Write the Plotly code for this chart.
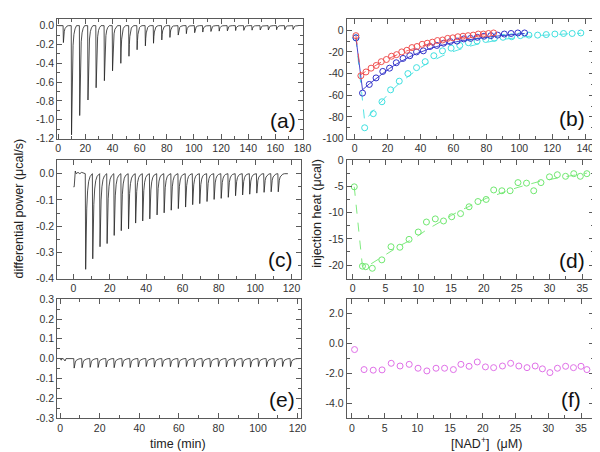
import plotly.graph_objects as go
from plotly.subplots import make_subplots

# ---------------- data ----------------
# (a) thermogram: injection times (min) and peak depths (ucal/s)
A_T = [3.6, 9.6, 15.6, 21.7, 27.7, 33.8, 39.8, 45.9, 51.9, 57.9, 64.0, 70.0, 76.1, 82.1,
       88.2, 94.2, 100.3, 106.3, 112.3, 118.4, 124.4, 130.5, 136.5, 142.6, 148.6, 154.6,
       160.7, 166.7, 172.8]
A_DEPTH = [-0.18, -1.16, -0.955, -0.79, -0.66, -0.585, -0.48, -0.40, -0.325, -0.256, -0.215,
           -0.187, -0.152, -0.125, -0.10, -0.085, -0.075, -0.068, -0.062, -0.058, -0.055,
           -0.052, -0.05, -0.048, -0.046, -0.045, -0.043, -0.042, -0.04]
A_START, A_END = 0.0, 177.0

# (c) thermogram
C_PRE_T = [0.0, 0.4, 1.0, 1.5, 2.5, 3.5, 4.5, 6.2]
C_PRE_Y = [-0.05, -0.05, 0.01, 0.0, 0.005, 0.0, 0.005, 0.0]
C_T = [6.5, 10.4, 14.4, 18.3, 22.2, 26.1, 30.1, 34.0, 37.9, 41.8, 45.8, 49.7, 53.6, 57.5,
       61.5, 65.4, 69.3, 73.3, 77.2, 81.1, 85.0, 89.0, 92.9, 96.8, 100.7, 104.7, 108.6, 112.5]
C_DEPTH = [-0.364, -0.324, -0.278, -0.266, -0.235, -0.217, -0.21, -0.188, -0.18, -0.172,
           -0.157, -0.149, -0.139, -0.133, -0.127, -0.118, -0.114, -0.106, -0.098, -0.094,
           -0.09, -0.084, -0.081, -0.078, -0.074, -0.071, -0.069, -0.069]
C_END = 118.0

# (e) blank thermogram
E_PRE_T = [0.0, 0.6, 1.0, 1.6, 2.5, 3.0, 4.0, 6.6]
E_PRE_Y = [0.0, -0.008, 0.0, 0.0, -0.012, 0.0, 0.0, 0.0]
E_T = [6.9, 10.9, 15.0, 19.0, 23.1, 27.1, 31.2, 35.2, 39.3, 43.3, 47.4, 51.4, 55.5, 59.5,
       63.6, 67.6, 71.7, 75.7, 79.8, 83.8, 87.9, 91.9, 96.0, 100.0, 104.1, 108.1, 112.2, 116.2]
E_DEPTH = [-0.048, -0.046, -0.044, -0.045, -0.042, -0.046, -0.04, -0.045, -0.042, -0.04,
           -0.043, -0.04, -0.041, -0.044, -0.04, -0.042, -0.041, -0.043, -0.04, -0.042,
           -0.04, -0.041, -0.043, -0.04, -0.041, -0.042, -0.04, -0.041]
E_END = 121.0

# (b) injection heats, three series (markers) plus fitted curves
RED_X = [0.8, 3.8, 6.9, 10.0, 13.1, 16.2, 19.3, 22.4, 25.5, 28.6, 31.7, 34.8, 37.9, 41.0,
         44.1, 47.2, 50.3, 53.4, 56.5, 59.6, 62.7, 65.8, 68.9, 72.0, 75.1, 78.2, 81.3, 84.4]
RED_Y = [-5, -42, -38.5, -35, -32.5, -29, -27, -24, -22.5, -20, -18.5, -16, -15, -13,
         -12, -11, -9.5, -9, -7.5, -7, -6, -5.5, -5, -4.5, -3.5, -3.5, -3, -2.5]
RED_FIT = [-5, -41, -37.8, -34.8, -32, -29.4, -27, -24.8, -22.7, -20.8, -19, -17.3, -15.8,
           -14.4, -13.1, -11.9, -10.8, -9.8, -8.9, -8, -7.2, -6.5, -5.8, -5.2, -4.7, -4.2,
           -3.7, -3.3]

BLUE_X = [0.8, 4.8, 8.9, 13.0, 17.1, 21.2, 25.3, 29.4, 33.5, 37.6, 41.7, 45.8, 49.9, 54.0,
          58.1, 62.2, 66.3, 70.4, 74.5, 78.6, 82.7, 86.8, 90.9, 95.0, 99.1, 103.2]
BLUE_Y = [-7, -58, -50, -44, -38, -35, -30, -26, -23.5, -20, -19, -15, -14, -12, -10.5,
          -10, -8, -7.5, -6.5, -5.5, -5, -4.5, -3.5, -3, -2.5, -2.5]
BLUE_FIT = [-7, -55, -49.5, -44.5, -39.5, -35.2, -31.2, -27.6, -24.4, -21.6, -19.1, -16.9,
            -15, -13.3, -11.8, -10.5, -9.4, -8.4, -7.5, -6.7, -6, -5.3, -4.7, -4.2, -3.6,
            -3.0]

CYAN_X = [0.8, 6.1, 11.35, 16.6, 21.85, 27.1, 32.35, 37.6, 42.85, 48.1, 53.35, 58.6, 63.85,
          69.1, 74.35, 79.6, 84.85, 90.1, 95.35, 100.6, 105.85, 111.1, 116.35, 121.6,
          126.85, 132.1, 137.35]
CYAN_Y = [-7, -90, -77, -66, -55, -47, -40, -34.5, -29, -23.5, -19, -16.5, -14, -11.5, -10,
          -8.5, -7.5, -6.5, -6, -5, -4.5, -4.5, -4, -3.5, -3, -3, -2.5]
CYAN_FIT = [-7, -84, -74, -65, -56.5, -49, -42.5, -36.8, -31.8, -27.4, -23.6, -20.3, -17.5,
            -15.1, -13, -11.2, -9.7, -8.4, -7.3, -6.4, -5.6, -4.9, -4.3, -3.8, -3.4, -3.1,
            -2.8]

# (d) injection heat vs [NAD+]
D_X = [0.25, 1.5, 2.0, 3.0, 4.45, 5.85, 7.2, 8.6, 10.0, 11.25, 12.6, 13.85, 15.1, 16.45,
       17.75, 19.1, 20.35, 21.5, 22.75, 24.0, 25.2, 26.5, 27.6, 28.7, 30.0, 31.2, 32.45,
       33.7, 34.7, 35.7]
D_Y = [-5.1, -20.2, -20.3, -20.6, -19.0, -16.5, -16.6, -15.1, -13.7, -11.8, -11.2, -11.6,
       -10.8, -10.2, -8.9, -7.9, -7.5, -5.7, -5.85, -5.85, -4.3, -4.4, -5.85, -4.3, -3.2,
       -2.8, -3.1, -2.6, -3.1, -2.6]
D_FIT = [-5.1, -20.3, -20.4, -19.6, -18.5, -17.4, -16.3, -15.4, -14.4, -13.3, -12.3, -11.3,
         -10.5, -9.6, -8.8, -8.0, -7.3, -6.8, -6.2, -5.7, -5.2, -4.7, -4.3, -4.0, -3.7,
         -3.4, -3.1, -2.9, -2.7, -2.5]

# (f) blank injection heats
F_X = [0.4, 1.85, 3.25, 4.6, 6.0, 7.35, 8.75, 10.1, 11.45, 12.85, 14.15, 15.5, 16.65,
       17.9, 19.15, 20.4, 21.65, 23.0, 24.25, 25.5, 26.75, 28.0, 29.1, 30.25, 31.4, 32.65,
       33.85, 35.0, 35.9]
F_Y = [-0.42, -1.76, -1.8, -1.78, -1.34, -1.52, -1.41, -1.67, -1.85, -1.67, -1.67, -1.76,
       -1.41, -1.54, -1.25, -1.58, -1.63, -1.52, -1.34, -1.52, -1.63, -1.52, -1.71, -1.96,
       -1.67, -1.54, -1.63, -1.54, -1.76]

# tick labels
A_XT = [0, 20, 40, 60, 80, 100, 120, 140, 160, 180]
A_YT = [0.0, -0.2, -0.4, -0.6, -0.8, -1.0, -1.2]
B_XT = [0, 20, 40, 60, 80, 100, 120, 140]
B_YT = [0, -20, -40, -60, -80, -100]
C_XT = [0, 20, 40, 60, 80, 100, 120]
C_YT = [0.0, -0.1, -0.2, -0.3, -0.4]
D_XT = [0, 5, 10, 15, 20, 25, 30, 35]
D_YT = [0, -5, -10, -15, -20]
E_XT = [0, 20, 40, 60, 80, 100, 120]
E_YT = [0.3, 0.2, 0.1, 0.0, -0.1, -0.2, -0.3]
F_XT = [0, 5, 10, 15, 20, 25, 30, 35]
F_YT = [2.0, 0.0, -2.0, -4.0]

# ---------------- rendering helpers ----------------
# shape of one injection peak (time offset in min, fraction of depth)
PROFILE_OFF = [0.0, 0.25, 0.55, 0.95, 1.5, 2.2, 3.1, 4.3]
PROFILE_FRAC = [0.0, 1.0, 0.62, 0.36, 0.18, 0.08, 0.03, 0.0]


def thermogram(times, depths, scale, t_end, pre_t=None, pre_y=None, t_start=0.0):
    xs, ys = [], []
    if pre_t:
        xs += list(pre_t)
        ys += list(pre_y)
    else:
        xs.append(t_start)
        ys.append(0.0)
    for t, d in zip(times, depths):
        for off, fr in zip(PROFILE_OFF, PROFILE_FRAC):
            xs.append(t + off * scale)
            ys.append(d * fr)
    xs.append(t_end)
    ys.append(0.0)
    return xs, ys


def labels(vals, fmt):
    return [format(v, fmt).replace("\u2212", "-") for v in vals]


fig = make_subplots(rows=3, cols=2)

LINE_K = dict(color="#222", width=0.8)
ax, ay = thermogram(A_T, A_DEPTH, 0.9, A_END, t_start=A_START)
fig.add_trace(go.Scatter(x=ax, y=ay, mode="lines", line=LINE_K), 1, 1)

cx, cy = thermogram(C_T, C_DEPTH, 0.85, C_END, C_PRE_T, C_PRE_Y)
fig.add_trace(go.Scatter(x=cx, y=cy, mode="lines", line=LINE_K), 2, 1)

ex, ey = thermogram(E_T, E_DEPTH, 0.85, E_END, E_PRE_T, E_PRE_Y)
fig.add_trace(go.Scatter(x=ex, y=ey, mode="lines", line=LINE_K), 3, 1)

MS = 6
# (b)
for xs, ys, fit, col, dash in [
    (CYAN_X, CYAN_Y, CYAN_FIT, "#3fe0e0", "dash"),
    (BLUE_X, BLUE_Y, BLUE_FIT, "#3030c8", "solid"),
    (RED_X, RED_Y, RED_FIT, "#f05050", "dash"),
]:
    fig.add_trace(go.Scatter(x=xs, y=fit, mode="lines",
                             line=dict(color=col, width=0.9, dash=dash)), 1, 2)
    fig.add_trace(go.Scatter(x=xs, y=ys, mode="markers",
                             marker=dict(symbol="circle-open", size=MS, color=col,
                                         line=dict(width=1, color=col))), 1, 2)

# (d)
fig.add_trace(go.Scatter(x=D_X, y=D_FIT, mode="lines",
                         line=dict(color="#70e870", width=0.9, dash="dash")), 2, 2)
fig.add_trace(go.Scatter(x=D_X, y=D_Y, mode="markers",
                         marker=dict(symbol="circle-open", size=MS, color="#70e870",
                                     line=dict(width=1, color="#70e870"))), 2, 2)

# (f)
fig.add_trace(go.Scatter(x=F_X, y=F_Y, mode="markers",
                         marker=dict(symbol="circle-open", size=MS, color="#e070e8",
                                     line=dict(width=1, color="#e070e8"))), 3, 2)

# ---------------- axes ----------------
AXC = "#5a5a5a"
common = dict(showline=True, linecolor=AXC, linewidth=1, mirror="allticks",
              ticks="inside", ticklen=5, tickwidth=1, tickcolor=AXC,
              showgrid=False, zeroline=False,
              tickfont=dict(family="Liberation Sans, Arial", size=10.5, color="#333"))


def minor(d):
    return dict(ticks="inside", ticklen=3, tickcolor=AXC, dtick=d, showgrid=False)


LX = [48 / 600, 298 / 600]
LX2 = [48 / 600, 296 / 600]
RX = [343 / 600, 595 / 600]
R1 = [1 - 128 / 452, 1 - 5 / 452]
R2 = [1 - 272 / 452, 1 - 150 / 452]
R3 = [1 - 415 / 452, 1 - 293 / 452]

fig.update_layout(
    xaxis=dict(common, domain=LX, range=[-0.8, 180], tickvals=A_XT, ticktext=labels(A_XT, "d"), minor=minor(10)),
    yaxis=dict(common, domain=R1, range=[-1.2, 0.072], tickvals=A_YT, ticktext=labels(A_YT, ".1f"), minor=minor(0.1)),
    xaxis2=dict(common, domain=RX, range=[-4.8, 145.4], tickvals=B_XT, ticktext=labels(B_XT, "d"), minor=minor(10)),
    yaxis2=dict(common, domain=R1, range=[-100, 10.5], tickvals=B_YT, ticktext=labels(B_YT, "d"), minor=minor(10)),
    xaxis3=dict(common, domain=LX2, range=[-9, 125], tickvals=C_XT, ticktext=labels(C_XT, "d"), minor=minor(10)),
    yaxis3=dict(common, domain=R2, range=[-0.4, 0.052], tickvals=C_YT, ticktext=labels(C_YT, ".1f"), minor=minor(0.05)),
    xaxis4=dict(common, domain=RX, range=[-0.9, 36.8], tickvals=D_XT, ticktext=labels(D_XT, "d"), minor=minor(2.5)),
    yaxis4=dict(common, domain=R2, range=[-22.6, 0], tickvals=D_YT, ticktext=labels(D_YT, "d"), minor=minor(2.5)),
    xaxis5=dict(common, domain=LX2, range=[-1.5, 121.5], tickvals=E_XT, ticktext=labels(E_XT, "d"), minor=minor(10)),
    yaxis5=dict(common, domain=R3, range=[-0.3, 0.3], tickvals=E_YT, ticktext=labels(E_YT, ".1f"), minor=minor(0.05)),
    xaxis6=dict(common, domain=RX, range=[-0.8, 37], tickvals=F_XT, ticktext=labels(F_XT, "d"), minor=minor(2.5)),
    yaxis6=dict(common, domain=R3, range=[-5, 2.95], tickvals=F_YT, ticktext=labels(F_YT, ".1f"), minor=minor(1)),
)

# ---------------- text ----------------
TF = "Liberation Sans, Arial"
ann = []
for txt, x, y in [("(a)", 278, 109), ("(b)", 572, 107), ("(c)", 276, 252),
                  ("(d)", 572, 253), ("(e)", 277, 396), ("(f)", 571, 396)]:
    ann.append(dict(text=txt, x=x / 600, y=1 - y / 452, xref="paper", yref="paper",
                    showarrow=False, xanchor="center", yanchor="middle",
                    font=dict(family=TF, size=21, color="#111")))
ann.append(dict(text="differential power (\u03bccal/s)", x=9 / 600, y=1 - 200 / 452,
                xref="paper", yref="paper", showarrow=False, textangle=-90,
                xanchor="center", yanchor="middle", font=dict(family=TF, size=12.5, color="#222")))
ann.append(dict(text="injection heat (\u03bccal)", x=312 / 600, y=1 - 205 / 452,
                xref="paper", yref="paper", showarrow=False, textangle=-90,
                xanchor="center", yanchor="middle", font=dict(family=TF, size=12.5, color="#222")))
ann.append(dict(text="time (min)", x=171 / 600, y=1 - 442 / 452,
                xref="paper", yref="paper", showarrow=False,
                xanchor="center", yanchor="middle", font=dict(family=TF, size=12.5, color="#222")))
ann.append(dict(text="[NAD<sup>+</sup>]&nbsp;&nbsp;(\u03bcM)", x=485 / 600, y=1 - 441 / 452,
                xref="paper", yref="paper", showarrow=False,
                xanchor="center", yanchor="middle", font=dict(family=TF, size=12.5, color="#222")))

fig.update_layout(width=600, height=452, margin=dict(l=0, r=0, t=0, b=0),
                  paper_bgcolor="white", plot_bgcolor="white", showlegend=False,
                  annotations=ann)

fig.write_html("out.html")
